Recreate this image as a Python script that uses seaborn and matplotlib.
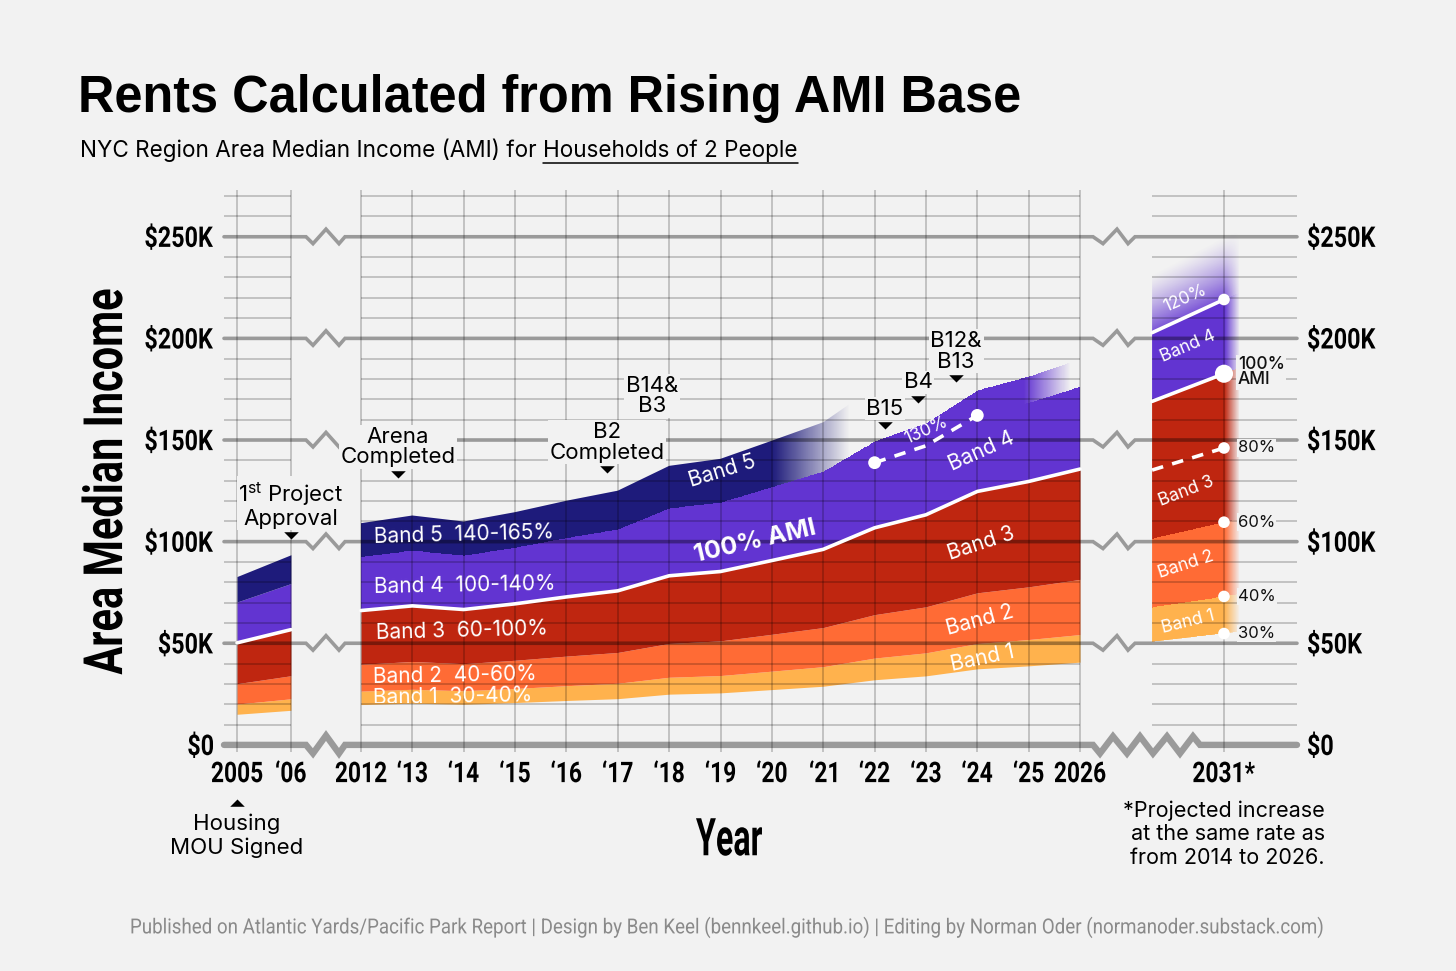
import numpy as np
import matplotlib
matplotlib.use("Agg")
import matplotlib.pyplot as plt
from matplotlib import font_manager
from matplotlib.colors import to_rgb
from matplotlib.transforms import Bbox, TransformedBbox, Affine2D, IdentityTransform
from matplotlib.textpath import TextPath
from matplotlib.patches import PathPatch
from matplotlib.font_manager import FontProperties
import seaborn as sns

# 100% AMI for a 2-person household, $K
early_years = [2005, 2006]
early_ami = [50.2, 56.7]
main_years = [2012, 2013, 2014, 2015, 2016, 2017, 2018, 2019, 2020, 2021, 2022, 2023, 2024, 2025, 2026]
main_ami = [66.1, 68.4, 66.6, 69.4, 72.8, 75.8, 83.2, 85.3, 90.7, 96.2, 106.8, 113.2, 124.7, 129.6, 135.7]
proj_years = [2029.6, 2031, 2031.3]
proj_ami = [169.0, 182.6, 185.5]

# band edges as share of AMI (band 1 .. band 5)
band_pct = [0.30, 0.40, 0.60, 1.00, 1.40, 1.65]
band_colors = ["#FFB24D", "#FF6B35", "#BF2610", "#6234D1", "#1E1B7B"]
late_cap = 1.30  # 130% line used from 2022 on

proj_marks = [0.30, 0.40, 0.60, 0.80, 1.00, 1.20]
proj_labels = ["30%", "40%", "60%", "80%", "100%\nAMI"]

event_labels = ["1$^{\\mathrm{st}}$ Project\nApproval", "Arena\nCompleted", "B2\nCompleted",
                "B14&\nB3", "B15", "B4", "B12&\nB13"]
event_years = [2006, 2012.72, 2016.79, 2017.67, 2022.2, 2022.85, 2023.59]
event_y = [103.3, 133.4, 135.8, 158.5, 157.5, 170.3, 180.6]

tick_years = [2005, 2006] + list(range(2012, 2027)) + [2031]
tick_labels = ["2005", "\u201806", "2012"] + ["\u2018%02d" % (y % 100) for y in range(2013, 2026)] + ["2026", "2031*"]
ytick_vals = [0, 50, 100, 150, 200, 250]
ytick_labels = ["$0", "$50K", "$100K", "$150K", "$200K", "$250K"]

BG = "#F2F2F2"
sns.set_theme(style="white", rc={"figure.facecolor": BG, "axes.facecolor": BG})
names = {f.name for f in font_manager.fontManager.ttflist}
SANS = "Inter" if "Inter" in names else "DejaVu Sans"
COND = "Roboto" if "Roboto" in names else "DejaVu Sans"
TITLE = "Liberation Sans" if "Liberation Sans" in names else "DejaVu Sans"
plt.rcParams["font.family"] = [SANS, "DejaVu Sans"]
plt.rcParams["text.color"] = "black"
plt.rcParams["mathtext.fontset"] = "custom"
plt.rcParams["mathtext.rm"] = SANS

W, H = 1456, 971


def xpos(yr):
    # broken x axis: 2005-06 | 2012-26 | 2031, one unit = one year in the middle panel
    yr = np.asarray(yr, dtype=float)
    return np.where(yr < 2009, (yr - 2005) * 1.05,
                    np.where(yr < 2028, 2.414 + (yr - 2012), 19.217 + (yr - 2031)))


def P(px):
    # pixel column -> x position (for break marks)
    return (px - 237) / 51.36


XL = (P(224), P(1297))
YL = (-3.5, 273)

fig = plt.figure(figsize=(W / 100, H / 100), dpi=100)
ax = fig.add_axes([224 / W, 1 - 752 / H, 1073 / W, 562 / H])
ax.set_facecolor(BG)
for s in ax.spines.values():
    s.set_visible(False)
ax.set_xlim(*XL)
ax.set_ylim(*YL)


def ctext(xy, s, size, sx=None, width=None, weight="bold", color="black", ha="center",
          va="cap", rot=0):
    # condensed text: glyph outlines squeezed horizontally, xy in display pixels
    fp = FontProperties(family=COND, weight=weight)
    tp = TextPath((0, 0), s, size=size * 100 / 72, prop=fp)
    e = tp.get_extents()
    if width is not None:
        sx = width / e.width
    cap = TextPath((0, 0), "H", size=size * 100 / 72, prop=fp).get_extents().height
    dx = {"left": -e.x0, "center": -(e.x0 + e.x1) / 2, "right": -e.x1}[ha]
    dy = {"cap": -cap / 2, "center": -(e.y0 + e.y1) / 2, "baseline": 0}[va]
    tr = Affine2D().translate(dx, dy).scale(sx, 1).rotate_deg(rot).translate(*xy)
    fig.add_artist(PathPatch(tr.transform_path(tp), fc=color, ec="none", lw=0,
                             transform=IdentityTransform(), zorder=6))


def ramp(X, a, b):
    return np.clip((b - X) / (b - a), 0, 1)


def band_image(x, ami, edges, colors, alpha_fn, nx=1400, ny=900):
    lo, hi = ami * edges[0], ami * edges[-1]
    poly = ax.fill_between(x, lo, hi, facecolor="none", edgecolor="none", lw=0)
    x0, x1, y0, y1 = x.min(), x.max(), lo.min(), hi.max()
    X, Y = np.meshgrid(np.linspace(x0, x1, nx), np.linspace(y0, y1, ny))
    r = Y / np.interp(X, x, ami)
    rgba = np.zeros(X.shape + (4,))
    for k, c in enumerate(colors):
        m = (r >= edges[k]) & (r < edges[k + 1] + (1 if k == len(colors) - 1 else 0))
        f = np.clip((r - edges[k]) / (edges[k + 1] - edges[k]), 0, 1)
        rgba[m, :3] = to_rgb(c)
        rgba[m, 3] = np.clip(alpha_fn(X, k, f) * np.ones_like(X), 0, 1)[m]
    im = ax.imshow(rgba, extent=(x0, x1, y0, y1), origin="lower", aspect="auto",
                   interpolation="nearest", zorder=1.2)
    im.set_clip_path(poly.get_paths()[0], ax.transData)


ey, ea = np.array(early_years, float), np.array(early_ami)
my, ma = np.array(main_years, float), np.array(main_ami)
py, pa = np.array(proj_years, float), np.array(proj_ami)
ex, mx, pxs = xpos(ey), xpos(my), xpos(py)

# 2005-06
for k in range(5):
    ax.fill_between(ex, ea * band_pct[k], ea * band_pct[k + 1], color=band_colors[k], lw=0, zorder=1)
# 2012-26
for k in range(3):
    ax.fill_between(mx, ma * band_pct[k], ma * band_pct[k + 1], color=band_colors[k], lw=0, zorder=1)
main_alpha = [lambda X, f: 1.0,
              lambda X, f: ramp(X, xpos(2024.9), xpos(2025.8)),
              lambda X, f: ramp(X, xpos(2020.0), xpos(2021.5))]
band_image(mx, ma, [1.0, late_cap, band_pct[4], band_pct[5]],
           [band_colors[3], band_colors[3], band_colors[4]],
           lambda X, k, f: main_alpha[k](X, f))
# 2031 projection
xf = lambda X: ramp(X, xpos(2031.0), xpos(2031.3))
band_image(pxs, pa, [0.3, 0.4, 0.6, 1.0, 1.2, 1.37], band_colors[:4] + [band_colors[3]],
           lambda X, k, f: xf(X) * (1.0 if k < 4 else 0.85 * (1 - f) ** 1.3), nx=500, ny=1200)

# grid
GK = dict(color="black", alpha=0.25, lw=1.1, zorder=2)
panels = [(XL[0], xpos(2006)), (xpos(2012), xpos(2026)), (xpos(2029.6), XL[1])]
for v in range(10, 280, 10):
    if v % 50:
        for a, b in panels:
            ax.hlines(v, a, b, **GK)
ax.vlines(xpos(tick_years), YL[0], YL[1], **GK)

gap1 = [(306, 0), (313, -1), (326, 1.1), (339, -1), (345, 0)]
gap2 = [(1093, 0), (1103, -1), (1117, 1.1), (1128, -1), (1135, 0)]
gap0 = [(1093, 0), (1100, -1), (1113, 1), (1127, -1), (1140, 1), (1153, -1),
        (1167, 1), (1180, -1), (1193, 1), (1200, 0)]


def break_line(y, amp, gaps, lw):
    xs, ys = [XL[0]], [y]
    for g in gaps:
        for p, k in g:
            xs.append(P(p))
            ys.append(y + k * amp)
    xs.append(XL[1])
    ys.append(y)
    ax.plot(xs, ys, color="black", alpha=0.36, lw=lw, zorder=2.1, solid_joinstyle="miter",
            clip_on=False)


for v in ytick_vals[1:]:
    break_line(v, 3.4, [gap1, gap2], 2.6)
break_line(0, 4.2, [gap1, gap0], 4.6)

# white AMI lines
WL = dict(color="white", lw=2.6, zorder=3, estimator=None, sort=False, legend=False)
sns.lineplot(x=ex, y=ea, ax=ax, **WL)
sns.lineplot(x=mx, y=ma, ax=ax, **WL)
sns.lineplot(x=pxs[:2], y=pa[:2], ax=ax, **WL)
sns.lineplot(x=pxs[:2], y=pa[:2] * 1.2, ax=ax, **WL)
ax.plot(pxs[:2], pa[:2] * 0.8, color="white", lw=2.6, dashes=(3.2, 2.6), zorder=3)
ax.plot(mx[10:13], ma[10:13] * late_cap, color="white", lw=2.6, dashes=(3.2, 2.6), zorder=3)

# dots
dx = xpos([2031] * 6)
dy = pa[1] * np.array(proj_marks)
sns.scatterplot(x=dx, y=dy, s=70, color="white", edgecolor="none", ax=ax, zorder=4, legend=False)
ax.scatter(dx[4], dy[4], s=170, color="white", edgecolor="none", zorder=4)
ax.scatter(mx[[10, 12]], ma[[10, 12]] * late_cap, s=85, color="white", edgecolor="none", zorder=4)

BOX = dict(boxstyle="square,pad=0.08", fc=BG, ec="none")
for pct, lab in zip(proj_marks[:5], proj_labels):
    big = "\n" in lab
    ax.annotate(lab, (dx[0], pa[1] * pct), xytext=(10, 1 if big else 0), textcoords="offset points",
                ha="left", va="center", fontsize=12.5 if big else 12, color="#111111",
                fontweight="medium" if big else "normal", linespacing=0.85, bbox=BOX, zorder=5)

# events
tri_dn = [(-1, 0.45), (1, 0.45), (0, -0.55)]
ax.scatter(xpos(event_years), event_y, marker=tri_dn, s=110, color="black", zorder=5, lw=0)
for lab, yr, yv in zip(event_labels, event_years, event_y):
    ax.annotate(lab, (xpos(yr), yv), xytext=(0, 4.5), textcoords="offset points", ha="center",
                va="bottom", fontsize=16, linespacing=1.05, bbox=BOX, zorder=5)
ax.scatter(xpos(2005), -28.5, marker=[(-1, -0.45), (1, -0.45), (0, 0.55)], s=110, color="black",
           lw=0, clip_on=False)
ax.annotate("Housing\nMOU Signed", (xpos(2005), -28.5), xytext=(0, -8), textcoords="offset points",
            ha="center", va="top", fontsize=16, linespacing=1.2, annotation_clip=False)

# band labels
TW = dict(color="white", zorder=5, va="center")
for txt, yr, yv, rot in [("Band 5  140-165%", 2012.25, 103.3, 1.5), ("Band 4  100-140%", 2012.25, 78.7, 1.0),
                         ("Band 3  60-100%", 2012.29, 56.3, 1.5), ("Band 2  40-60%", 2012.23, 34.0, 1.0)]:
    ax.text(xpos(yr), yv, txt, ha="left", rotation=rot, fontsize=15, **TW)
t1 = ax.text(xpos(2012.23), 23.6, "Band 1  30-40%", ha="left", rotation=1.0, fontsize=15, **TW)
t1.set_clip_box(TransformedBbox(Bbox([[xpos(2012), 20.4], [xpos(2017), 40]]), ax.transData))
t1.set_clip_on(True)
ax.text(xpos(2019.03), 134.8, "Band 5", ha="center", rotation=17, fontsize=15, **TW)
ax.text(xpos(2019.67), 99.8, "100% AMI", ha="center", rotation=13, fontsize=18, fontweight="bold", **TW)
ax.text(xpos(2023.0), 154.5, "130%", ha="center", rotation=24, fontsize=12.5, **TW)
for txt, yr, yv, rot in [("Band 4", 2024.09, 144.2, 24), ("Band 3", 2024.07, 98.9, 18),
                         ("Band 2", 2024.05, 61.5, 15), ("Band 1", 2024.1, 42.8, 12)]:
    ax.text(xpos(yr), yv, txt, ha="center", rotation=rot, fontsize=15, **TW)
for txt, yr, yv, rot in [("120%", 2030.24, 219.5, 24), ("Band 4", 2030.3, 195.9, 23),
                         ("Band 3", 2030.26, 124.5, 21), ("Band 2", 2030.26, 88.6, 18),
                         ("Band 1", 2030.3, 60.5, 14)]:
    ax.text(xpos(yr), yv, txt, ha="center", rotation=rot, fontsize=12.5, **TW)

# ticks: positions from the axes scales, labels drawn condensed
ax.grid(False)
ax.set_xticks(xpos(tick_years), labels=[])
ax.set_yticks(ytick_vals, labels=[])
ax.tick_params(length=0)
for pos, lab in zip(xpos(tick_years), tick_labels):
    x_d, y_d = ax.transData.transform((pos, YL[0]))
    ctext((x_d, y_d - 20), lab, 20.5, sx=0.8)
for v, lab in zip(ytick_vals, ytick_labels):
    xl, y_d = ax.transData.transform((XL[0], v))
    xr, _ = ax.transData.transform((XL[1], v))
    ctext((xl - 11, y_d), lab, 20.5, sx=0.82, ha="right")
    ctext((xr + 11, y_d), lab, 20.5, sx=0.82, ha="left")

ctext((102, H - 482), "Area Median Income", 39, width=385, rot=90, va="center")
ctext((729, H - 837), "Year", 37.5, width=66, va="center")

fig.text(78 / W, 1 - 112 / H, "Rents Calculated from Rising AMI Base", ha="left",
         va="baseline", fontsize=36.4, fontweight="bold", family=TITLE, color="black")
s1 = fig.text(80 / W, 1 - 157 / H, "NYC Region Area Median Income (AMI) for ", ha="left",
              va="baseline", fontsize=16.2)
fig.canvas.draw()
bb = s1.get_window_extent()
s2 = fig.text(bb.x1 / fig.bbox.width, 1 - 157 / H, "Households of 2 People", ha="left",
              va="baseline", fontsize=16.2)
fig.canvas.draw()
bb2 = s2.get_window_extent()
uy = (bb2.y0 - 1) / fig.bbox.height
fig.add_artist(plt.Line2D([bb2.x0 / fig.bbox.width, bb2.x1 / fig.bbox.width], [uy, uy],
                          color="black", lw=1.1, transform=fig.transFigure))

fig.text(1325 / W, 1 - 834 / H, "*Projected increase\nat the same rate as\nfrom 2014 to 2026.",
         ha="right", va="center", fontsize=15.5, linespacing=1.22, multialignment="right")
ctext((727, H - 926),
      "Published on Atlantic Yards/Pacific Park Report | Design by Ben Keel (bennkeel.github.io) | "
      "Editing by Norman Oder (normanoder.substack.com)",
      15, width=1191, weight="normal", color="#8A8A8A", va="cap")

fig.savefig("out.png", dpi=100, facecolor=BG)
